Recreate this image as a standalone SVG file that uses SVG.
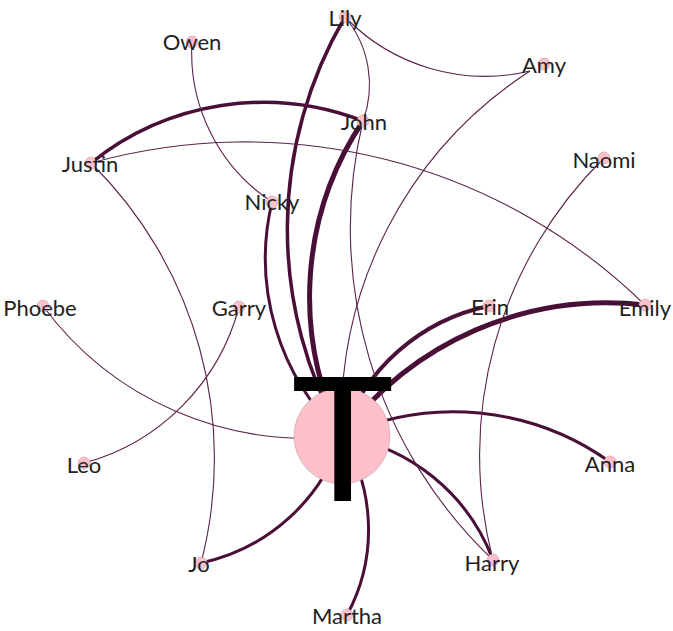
<svg xmlns="http://www.w3.org/2000/svg" width="673" height="631" viewBox="0 0 673 631">
<style>
.e{fill:none;stroke:#4a0f37;}
.t{stroke-width:1.1;stroke:#5a2449;}
.n{fill:#ffc0cb;stroke:#b9a3a8;stroke-width:0.6;}
.l{font-family:Lato,"Noto Sans",sans-serif;font-size:22px;fill:#222;text-anchor:middle;}
</style>
<rect width="673" height="631" fill="#fff"/>
<g id="edges">
<path class="e" stroke-width="3" d="M342,436 A269.3,269.3 0 0 1 610,462"/>
<path class="e" stroke-width="3.5" d="M342,436 A419,419 0 0 1 345,17"/>
<path class="e" stroke-width="5" d="M342,436 A315.7,315.7 0 0 1 363,121"/>
<path class="e" stroke-width="3" d="M342,436 A244.2,244.2 0 0 1 272,202"/>
<path class="e t" d="M342,436 A413,413 0 0 1 530,71"/>
<path class="e t" d="M342,436 A326,326 0 0 1 43,306"/>
<path class="e" stroke-width="3" d="M342,436 A189.8,189.8 0 0 1 201,563"/>
<path class="e" stroke-width="3" d="M342,436 A179.1,179.1 0 0 1 347,615"/>
<path class="e" stroke-width="3" d="M342,436 A195.4,195.4 0 0 1 493,560"/>
<path class="e" stroke-width="4" d="M342,436 A196.2,196.2 0 0 1 489,306"/>
<path class="e" stroke-width="5" d="M342,436 A330.1,330.1 0 0 1 645,305"/>
<path class="e" stroke-width="3.5" d="M91,163 A275.2,275.2 0 0 1 363,121"/>
<path class="e t" d="M91,163 A571.9,571.9 0 0 1 645,305"/>
<path class="e t" d="M91,163 A414.9,414.9 0 0 1 201,563"/>
<path class="e t" d="M272,202 A178.9,178.9 0 0 1 192,42"/>
<path class="e t" d="M239,307 A219.9,219.9 0 0 1 84,463"/>
<path class="e t" d="M345,17 A105.5,105.5 0 0 1 363,121"/>
<path class="e t" d="M530,71 A195,195 0 0 1 345,17"/>
<path class="e t" d="M493,560 A457.8,457.8 0 0 1 363,121"/>
<path class="e t" d="M493,560 A417,417 0 0 1 604,158"/>
</g>
<g id="node-T"><circle class="n" cx="342" cy="436" r="48"/></g>
<g id="node-Lily"><circle class="n" cx="345" cy="17" r="6"/><text class="l" x="345" y="26">Lily</text></g>
<g id="node-Owen"><circle class="n" cx="192" cy="42" r="6"/><text class="l" x="192" y="50">Owen</text></g>
<g id="node-Amy"><circle class="n" cx="544" cy="64" r="6"/><text class="l" x="544" y="73">Amy</text></g>
<g id="node-John"><circle class="n" cx="363" cy="121" r="6"/><text class="l" x="364" y="130">John</text></g>
<g id="node-Justin"><circle class="n" cx="91" cy="163" r="6"/><text class="l" x="90" y="172">Justin</text></g>
<g id="node-Naomi"><circle class="n" cx="604" cy="158" r="6"/><text class="l" x="604" y="168">Naomi</text></g>
<g id="node-Nicky"><circle class="n" cx="272" cy="202" r="6"/><text class="l" x="272" y="210">Nicky</text></g>
<g id="node-Phoebe"><circle class="n" cx="43" cy="306" r="6"/><text class="l" x="40" y="316">Phoebe</text></g>
<g id="node-Garry"><circle class="n" cx="239" cy="307" r="6"/><text class="l" x="239" y="316">Garry</text></g>
<g id="node-Erin"><circle class="n" cx="489" cy="306" r="6"/><text class="l" x="490" y="315">Erin</text></g>
<g id="node-Emily"><circle class="n" cx="645" cy="305" r="6"/><text class="l" x="645" y="316">Emily</text></g>
<g id="node-Leo"><circle class="n" cx="84" cy="463" r="6"/><text class="l" x="84" y="473">Leo</text></g>
<g id="node-Anna"><circle class="n" cx="610" cy="462" r="6"/><text class="l" x="610" y="472">Anna</text></g>
<g id="node-Jo"><circle class="n" cx="201" cy="563" r="6"/><text class="l" x="199" y="572">Jo</text></g>
<g id="node-Harry"><circle class="n" cx="493" cy="560" r="6"/><text class="l" x="492" y="571">Harry</text></g>
<g id="node-Martha"><circle class="n" cx="347" cy="615" r="6"/><text class="l" x="347" y="624">Martha</text></g>
<g id="label-T"><text x="342.5" y="501" font-family="Lato,'Noto Sans',sans-serif" font-size="173" fill="#000" text-anchor="middle">T</text></g>
</svg>
